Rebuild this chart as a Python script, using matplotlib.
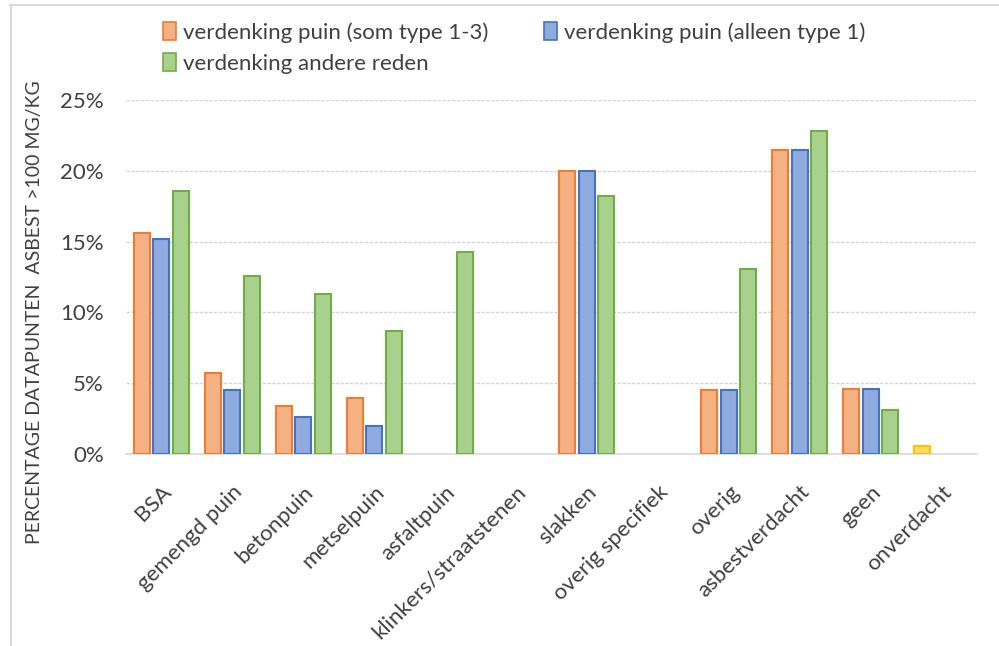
import numpy as np
import matplotlib.pyplot as plt
from matplotlib.patches import Patch
from matplotlib.ticker import PercentFormatter

plt.rcParams['font.family'] = ['Lato', 'DejaVu Sans']

categories = ["BSA", "gemengd puin", "betonpuin", "metselpuin", "asfaltpuin",
              "klinkers/straatstenen", "slakken", "overig specifiek", "overig",
              "asbestverdacht", "geen", "onverdacht"]
# percentages per category; None = no bar
puin_1_3 = [15.6, 5.7, 3.4, 3.95, None, None, 20.0, None, 4.5, 21.5, 4.6, 0.6]
puin_1 = [15.2, 4.5, 2.6, 2.0, None, None, 20.0, None, 4.5, 21.5, 4.6, None]
andere = [18.6, 12.6, 11.3, 8.7, 14.3, None, 18.2, None, 13.1, 22.8, 3.1, None]
series_names = ["verdenking puin (som type 1-3)", "verdenking puin (alleen type 1)",
                "verdenking andere reden"]

fills = ["#F4B183", "#8FAADC", "#A9D18E"]
edges = ["#ED7D31", "#4472C4", "#70AD47"]

fig = plt.figure(figsize=(9.99, 6.46), dpi=100)
ax = fig.add_axes([126 / 999, 1 - 454 / 646, 851 / 999, 354 / 646])

x = np.arange(len(categories))
width = 0.225
offsets = [-0.275, 0, 0.275]
for vals, off, fc, ec in zip([puin_1_3, puin_1, andere], offsets, fills, edges):
    for i, v in enumerate(vals):
        if v is None:
            continue
        f, e = fc, ec
        if categories[i] == "onverdacht":
            f, e = "#FFD966", "#FFC000"
        ax.bar(x[i] + off, v, width, color=f, edgecolor=e, linewidth=1.5, zorder=3)

ax.set_xlim(-0.5, len(categories) - 0.5)
ax.set_ylim(0, 25)
ax.set_yticks(np.arange(0, 26, 5))
ax.yaxis.set_major_formatter(PercentFormatter(decimals=0))
ax.grid(axis='y', color='#D6D6D6', linestyle=(0, (2.5, 1)), linewidth=1, zorder=0)
for s in ['top', 'right', 'left']:
    ax.spines[s].set_visible(False)
ax.spines['bottom'].set_color('#D9D9D9')
ax.spines['bottom'].set_linewidth(1.2)
ax.tick_params(length=0, labelsize=16, colors='#404040')
ax.tick_params(axis='y', pad=16)
ax.tick_params(axis='x', pad=20)
ax.set_xticks(x)
ax.set_xticklabels(categories, rotation=45, ha='right', rotation_mode='anchor')

fig.text(35 / 999, 1 - 312 / 646, "PERCENTAGE DATAPUNTEN  ASBEST >100 MG/KG",
         rotation=90, ha='center', va='center', fontsize=14, color='#404040')

order = [0, 2, 1]
handles = [Patch(facecolor=fills[i], edgecolor=edges[i], linewidth=1.2) for i in order]
fig.legend(handles, [series_names[i] for i in order], ncol=2, loc='upper left',
           bbox_to_anchor=(143 / 999, 1 - 2 / 646), frameon=False, fontsize=16,
           handlelength=0.6, handleheight=0.9, handletextpad=0.3, columnspacing=2.5,
           labelspacing=0.45, labelcolor='#404040')

# chart border
fig.add_artist(plt.Line2D([10 / 999, 1], [1 - 5 / 646, 1 - 5 / 646], color='#D9D9D9', lw=1.5))
fig.add_artist(plt.Line2D([11 / 999, 11 / 999], [0, 1 - 5 / 646], color='#D9D9D9', lw=1.5))

fig.savefig("out.png", dpi=100)
